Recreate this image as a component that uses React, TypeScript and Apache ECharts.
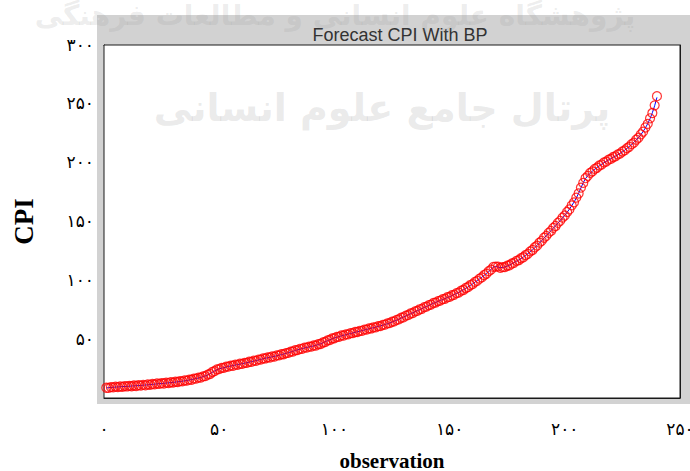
import React, { useEffect, useRef } from 'react';
import * as echarts from 'echarts';

// Observations 1..240
const actual: number[] = [
  8.5, 8.8, 9.0, 9.1, 9.3, 9.4, 9.5, 9.7, 9.8, 9.9,
  10.0, 10.2, 10.3, 10.4, 10.6, 10.7, 10.9, 11.0, 11.2, 11.4,
  11.6, 11.8, 12.0, 12.2, 12.3, 12.5, 12.7, 12.9, 13.1, 13.3,
  13.5, 13.8, 14.0, 14.3, 14.6, 14.9, 15.3, 15.7, 16.1, 16.6,
  17.0, 17.5, 18.1, 18.8, 19.6, 20.6, 21.8, 23.0, 24.0, 24.8,
  25.3, 25.8, 26.3, 26.8, 27.2, 27.6, 28.0, 28.4, 28.8, 29.2,
  29.6, 30.0, 30.5, 30.9, 31.4, 31.8, 32.3, 32.8, 33.3, 33.8,
  34.2, 34.6, 35.0, 35.4, 35.9, 36.4, 36.9, 37.4, 37.9, 38.5,
  39.1, 39.7, 40.3, 40.9, 41.5, 42.0, 42.5, 43.0, 43.4, 43.8,
  44.3, 44.8, 45.4, 46.1, 46.9, 47.8, 48.7, 49.5, 50.3, 51.0,
  51.6, 52.2, 52.8, 53.3, 53.8, 54.3, 54.8, 55.3, 55.8, 56.3,
  56.8, 57.3, 57.8, 58.3, 58.8, 59.3, 59.8, 60.3, 60.8, 61.3,
  61.9, 62.5, 63.1, 63.8, 64.5, 65.3, 66.1, 67.0, 67.9, 68.8,
  69.7, 70.6, 71.5, 72.4, 73.3, 74.2, 75.1, 76.0, 76.9, 77.8,
  78.7, 79.6, 80.5, 81.3, 82.1, 82.9, 83.7, 84.5, 85.3, 86.1,
  87.0, 87.9, 88.8, 89.8, 90.9, 92.0, 93.2, 94.4, 95.7, 97.0,
  98.4, 99.8, 101.2, 102.7, 104.2, 105.8, 107.5, 109.3, 111.2, 111.8,
  111.3, 110.8, 110.9, 111.4, 112.1, 113.0, 114.0, 115.1, 116.2, 117.3,
  118.5, 119.8, 121.2, 122.7, 124.3, 126.0, 127.8, 129.7, 131.7, 133.8,
  135.9, 138.0, 140.1, 142.2, 144.3, 146.4, 148.6, 150.8, 153.0, 155.3,
  157.8, 160.5, 163.4, 166.5, 170.0, 174.0, 178.5, 183.0, 186.5, 189.0,
  191.0, 192.8, 194.4, 195.9, 197.3, 198.6, 199.9, 201.1, 202.3, 203.4,
  204.5, 205.6, 206.7, 207.9, 209.2, 210.6, 212.1, 213.7, 215.4, 217.2,
  219.2, 221.4, 223.8, 226.5, 229.6, 233.2, 237.4, 242.4, 248.4, 255.5,
];

const forecast: number[] = [
  8.7, 8.6, 9.3, 9.0, 9.6, 9.2, 9.8, 9.5, 10.1, 9.8,
  10.3, 10.0, 10.6, 10.2, 10.9, 10.5, 11.2, 10.8, 11.5, 11.2,
  11.9, 11.6, 12.3, 12.0, 12.6, 12.3, 13.0, 12.7, 13.4, 13.1,
  13.8, 13.6, 14.3, 14.1, 14.9, 14.7, 15.6, 15.5, 16.4, 16.4,
  17.3, 17.3, 18.4, 18.6, 19.9, 20.4, 22.1, 22.8, 24.3, 24.6,
  25.6, 25.6, 26.6, 26.6, 27.5, 27.4, 28.3, 28.2, 29.1, 29.0,
  29.9, 29.8, 30.8, 30.7, 31.7, 31.6, 32.6, 32.6, 33.6, 33.6,
  34.5, 34.4, 35.3, 35.2, 36.2, 36.2, 37.2, 37.2, 38.2, 38.3,
  39.4, 39.5, 40.6, 40.7, 41.8, 41.8, 42.8, 42.8, 43.7, 43.6,
  44.6, 44.6, 45.7, 45.9, 47.2, 47.6, 49.0, 49.3, 50.6, 50.8,
  51.9, 52.0, 53.1, 53.1, 54.1, 54.1, 55.1, 55.1, 56.1, 56.1,
  57.1, 57.1, 58.1, 58.1, 59.1, 59.1, 60.1, 60.1, 61.1, 61.1,
  62.2, 62.3, 63.4, 63.6, 64.8, 65.1, 66.4, 66.8, 68.2, 68.6,
  70.0, 70.4, 71.8, 72.2, 73.6, 74.0, 75.4, 75.8, 77.2, 77.6,
  79.0, 79.4, 80.8, 81.1, 82.4, 82.7, 84.0, 84.3, 85.6, 85.9,
  87.3, 87.7, 89.1, 89.6, 91.2, 91.8, 93.5, 94.2, 96.0, 96.8,
  98.7, 99.6, 101.5, 102.5, 104.5, 105.6, 107.8, 109.1, 111.5, 111.6,
  111.6, 110.6, 111.2, 111.2, 112.4, 112.8, 114.3, 114.9, 116.5, 117.1,
  118.8, 119.6, 121.5, 122.5, 124.6, 125.8, 128.1, 129.5, 132.0, 133.6,
  136.2, 137.8, 140.4, 142.0, 144.6, 146.2, 148.9, 150.6, 153.3, 155.1,
  158.1, 160.3, 163.7, 166.3, 170.3, 173.8, 178.8, 182.8, 186.8, 188.8,
  191.3, 192.6, 194.7, 195.7, 197.6, 198.4, 200.2, 200.9, 202.6, 203.2,
  204.8, 205.4, 207.0, 207.7, 209.5, 210.4, 212.4, 213.5, 215.7, 217.0,
  219.5, 221.2, 224.1, 226.3, 229.9, 233.0, 237.7, 242.2, 248.7, 256.5,
];

const seriesNames = ['actual', 'forecast'];
const titleText = 'Forecast CPI With BP';
const xAxisTitle = 'observation';
const yAxisTitle = 'CPI';
const persianDigits = '۰۱۲۳۴۵۶۷۸۹';
const watermarkMain = 'پرتال جامع علوم انسانی';
const watermarkTop = 'پژوهشگاه علوم انسانی و مطالعات فرهنگی';

const toPersian = (v: number) => String(v).replace(/\d/g, (d) => persianDigits[Number(d)]);

const GRID = { left: 104, top: 45, right: 680, bottom: 398 };

export default function App() {
  const ref = useRef<HTMLDivElement>(null);
  useEffect(() => {
    if (!ref.current) return;
    const chart = echarts.init(ref.current, undefined, { renderer: 'svg' });
    const tickFont = "'Liberation Serif', 'DejaVu Serif', 'DejaVu Sans', serif";
    const axisCommon = {
      min: 0,
      splitLine: { show: false },
      axisLine: { show: true, onZero: false, lineStyle: { color: '#1a1a1a', width: 1 } },
      axisTick: { show: true, inside: true, length: 5, lineStyle: { color: '#1a1a1a' } },
    };
    chart.setOption({
      animation: false,
      backgroundColor: '#ffffff',
      title: {
        text: titleText,
        left: 395,
        top: 21,
        textAlign: 'center',
        textStyle: { fontFamily: "'Liberation Sans', Arial, sans-serif", fontSize: 18, fontWeight: 'normal', color: '#333' },
      },
      grid: {
        left: GRID.left,
        top: GRID.top,
        width: GRID.right - GRID.left,
        height: GRID.bottom - GRID.top,
        outerBoundsMode: 'none',
        containLabel: false,
        show: true,
        backgroundColor: '#ffffff',
        borderColor: '#1a1a1a',
        borderWidth: 1,
        z: 1,
      },
      xAxis: [
        {
          ...axisCommon,
          type: 'value',
          max: 250,
          interval: 50,
          position: 'bottom',
          name: xAxisTitle,
          nameLocation: 'middle',
          nameGap: 52,
          nameTextStyle: { fontFamily: "'Liberation Serif', serif", fontWeight: 'bold', fontSize: 21, color: '#000' },
          axisLabel: {
            margin: 23,
            fontFamily: tickFont,
            fontSize: 17,
            color: '#000',
            showMinLabel: true,
            showMaxLabel: true,
            formatter: (v: number) => toPersian(v),
          },
        },
        {
          ...axisCommon,
          type: 'value',
          max: 250,
          interval: 50,
          position: 'top',
          axisLabel: { show: false },
        },
      ],
      yAxis: [
        {
          ...axisCommon,
          type: 'value',
          max: 300,
          interval: 50,
          position: 'left',
          name: yAxisTitle,
          nameLocation: 'middle',
          nameGap: 67,
          nameRotate: 90,
          nameTextStyle: { fontFamily: "'Liberation Serif', serif", fontWeight: 'bold', fontSize: 27, color: '#000' },
          axisLabel: {
            margin: 10,
            fontFamily: tickFont,
            fontSize: 17,
            color: '#000',
            formatter: (v: number) => (v === 0 ? '' : toPersian(v)),
          },
        },
        {
          ...axisCommon,
          type: 'value',
          max: 300,
          interval: 50,
          position: 'right',
          axisLabel: { show: false },
        },
      ],
      series: [
        {
          name: seriesNames[0],
          type: 'line',
          data: actual.map((v, i) => [i + 1, v]),
          symbol: 'none',
          lineStyle: { color: '#0000ff', width: 1 },
          z: 3,
        },
        {
          name: seriesNames[1],
          type: 'scatter',
          data: forecast.map((v, i) => [i + 1, v]),
          symbol: 'circle',
          symbolSize: 9,
          itemStyle: { color: 'rgba(0,0,0,0)', borderColor: '#ff0000', borderWidth: 1.2 },
          z: 4,
        },
      ],
      graphic: [
        {
          type: 'rect',
          z: -10,
          silent: true,
          shape: { x: 97, y: 15, width: 593, height: 389 },
          style: { fill: '#d2d2d2' },
        },
        {
          type: 'text',
          z: 30,
          silent: true,
          x: 382,
          y: 108,
          style: {
            text: watermarkMain,
            fontFamily: "'DejaVu Sans', sans-serif",
            fontSize: 38,
            fontWeight: 'bold',
            fill: 'rgba(150,150,150,0.2)',
            textAlign: 'center',
            textVerticalAlign: 'middle',
          },
        },
        {
          type: 'text',
          z: 30,
          silent: true,
          x: 335,
          y: 15,
          style: {
            text: watermarkTop,
            fontFamily: "'DejaVu Sans', sans-serif",
            fontSize: 28,
            fontWeight: 'bold',
            fill: 'rgba(150,150,150,0.18)',
            textAlign: 'center',
            textVerticalAlign: 'middle',
          },
        },
        {
          type: 'group',
          z: 40,
          children: [
            {
              type: 'rect',
              shape: { x: 534, y: 53, width: 139, height: 43 },
              style: { fill: '#ffffff', stroke: '#333', lineWidth: 1 },
            },
            {
              type: 'line',
              shape: { x1: 545, y1: 64, x2: 597, y2: 64 },
              style: { stroke: '#3a3aff', lineWidth: 1 },
            },
            {
              type: 'text',
              x: 605,
              y: 64,
              style: { text: seriesNames[0], fontFamily: "'Liberation Sans', Arial, sans-serif", fontSize: 17, fill: '#2a2a3a', textVerticalAlign: 'middle' },
            },
            {
              type: 'circle',
              shape: { cx: 572, cy: 83, r: 4 },
              style: { fill: 'none', stroke: '#ff0000', lineWidth: 1 },
            },
            {
              type: 'text',
              x: 605,
              y: 83,
              style: { text: seriesNames[1], fontFamily: "'Liberation Sans', Arial, sans-serif", fontSize: 17, fill: '#2a2a3a', textVerticalAlign: 'middle' },
            },
          ],
        },
      ],
    });
    return () => chart.dispose();
  }, []);
  return <div ref={ref} style={{ position: 'fixed', left: 0, top: 0, width: 690, height: 471 }} />;
}
